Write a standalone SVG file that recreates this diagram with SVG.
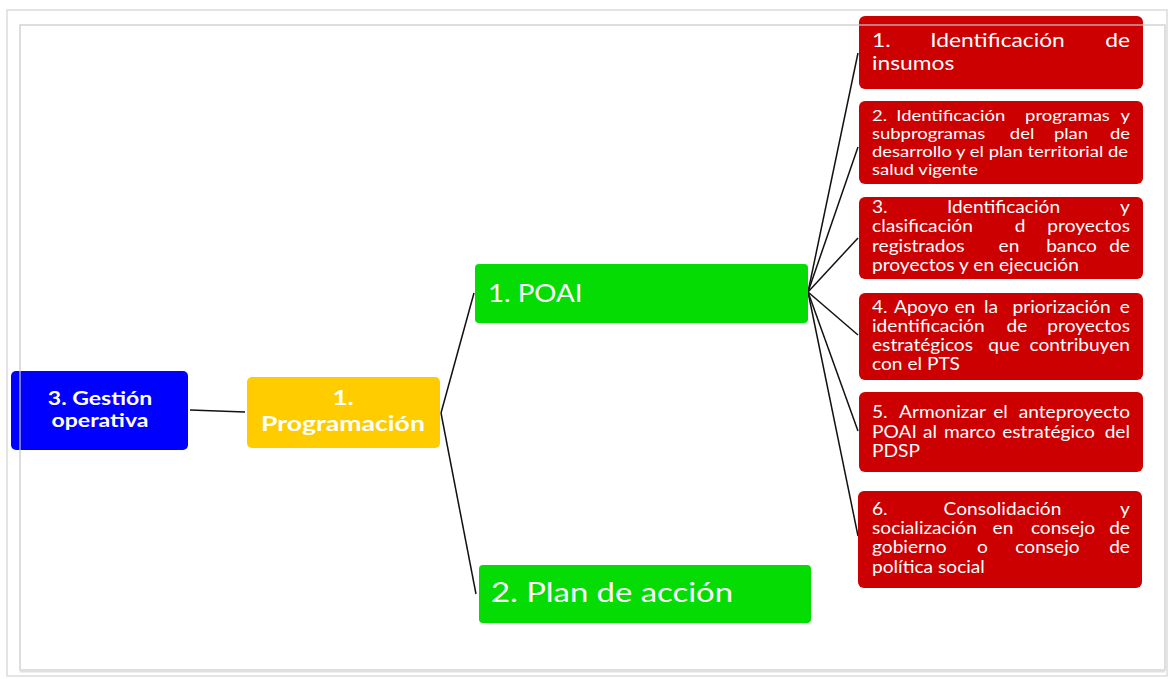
<svg xmlns="http://www.w3.org/2000/svg" width="1172" height="679" viewBox="0 0 1172 679">
<style>
.frame{fill:none;stroke:#dcdcdc;stroke-width:1.5}
.conn{stroke:#111;stroke-width:1.5;fill:none}
.red{fill:#cc0000}
.green{fill:#04dc04}
.t{font-family:Lato,"Open Sans","Liberation Sans",sans-serif;fill:#fff}
.b{font-weight:bold}
.rt{font-size:16.5px}
.m{text-anchor:middle}
.e{text-anchor:end}
</style>
<rect x="0" y="0" width="1172" height="679" fill="#fff"/>
<rect class="frame" x="7" y="10" width="1160" height="666"/>
<g id="connectors">
<line class="conn" x1="190" y1="410" x2="245" y2="412"/>
<line class="conn" x1="441" y1="413" x2="474" y2="293"/>
<line class="conn" x1="441" y1="413" x2="476" y2="594"/>
<line class="conn" x1="808" y1="292" x2="858" y2="53"/>
<line class="conn" x1="808" y1="292" x2="858" y2="147"/>
<line class="conn" x1="808" y1="292" x2="858" y2="238"/>
<line class="conn" x1="808" y1="292" x2="858" y2="335"/>
<line class="conn" x1="808" y1="292" x2="858" y2="431"/>
<line class="conn" x1="808" y1="292" x2="858" y2="536"/>
</g>
<g id="gestion">
<rect x="11" y="371" width="177" height="79" rx="5" fill="#0000ff"/>
<text class="t b" font-size="18" text-anchor="middle" transform="translate(100 405) scale(1.28 1)">3. Gestión</text>
<text class="t b" font-size="18" text-anchor="middle" transform="translate(100 427) scale(1.28 1)">operativa</text>
</g>
<g id="programacion">
<rect x="247" y="377" width="193" height="71" rx="5" fill="#ffcc00"/>
<text class="t b" font-size="20" text-anchor="middle" transform="translate(343 405) scale(1.33 1)">1.</text>
<text class="t b" font-size="20" text-anchor="middle" transform="translate(343 431) scale(1.33 1)">Programación</text>
</g>
<g id="poai">
<rect class="green" x="475" y="264" width="333" height="59" rx="4"/>
<text class="t" font-size="24.5" transform="translate(488 302) scale(1.13 1)">1. POAI</text>
</g>
<g id="plan">
<rect class="green" x="479" y="565" width="332" height="58" rx="4"/>
<text class="t" font-size="26.5" transform="translate(491 602) scale(1.24 1)">2. Plan de acción</text>
</g>
<g id="r1">
<rect class="red" x="859" y="16" width="284" height="73" rx="6"/>
<g transform="translate(872 0) scale(1.2 1)">
<text class="t" font-size="19" y="47"><tspan x="0">1.</tspan><tspan class="m" x="104.6">Identificación</tspan><tspan class="e" x="215">de</tspan></text>
<text class="t" font-size="19" x="0" y="70">insumos</text>
</g>
</g>
<g id="r2">
<rect class="red" x="859" y="101" width="284" height="83" rx="6"/>
<g transform="translate(872 0) scale(1.23 1)">
<text class="t" font-size="15" y="121"><tspan x="0">2.</tspan><tspan class="m" x="64">Identificación</tspan><tspan class="m" x="158.9">programas</tspan><tspan class="e" x="209.8">y</tspan></text>
<text class="t" font-size="15" y="139"><tspan x="0">subprogramas</tspan><tspan class="m" x="122">del</tspan><tspan class="m" x="161.8">plan</tspan><tspan class="e" x="209.8">de</tspan></text>
<text class="t" font-size="15" x="0" y="157">desarrollo y el plan territorial de</text>
<text class="t" font-size="15" x="0" y="175">salud vigente</text>
</g>
</g>
<g id="r3">
<rect class="red" x="859" y="197" width="284" height="82" rx="6"/>
<g transform="translate(872 0) scale(1.16 1)">
<text class="t rt" y="213"><tspan x="0">3.</tspan><tspan class="m" x="113.4">Identificación</tspan><tspan class="e" x="222.4">y</tspan></text>
<text class="t rt" y="232"><tspan x="0">clasificación</tspan><tspan class="m" x="127.6">d</tspan><tspan class="e" x="222.4">proyectos</tspan></text>
<text class="t rt" y="252"><tspan x="0">registrados</tspan><tspan class="m" x="118.1">en</tspan><tspan class="m" x="172">banco</tspan><tspan class="e" x="222.4">de</tspan></text>
<text class="t rt" x="0" y="271">proyectos y en ejecución</text>
</g>
</g>
<g id="r4">
<rect class="red" x="859" y="293" width="284" height="87" rx="6"/>
<g transform="translate(872 0) scale(1.16 1)">
<text class="t rt" y="313"><tspan x="0">4.</tspan><tspan class="m" x="42.5">Apoyo</tspan><tspan class="m" x="80">en</tspan><tspan class="m" x="102.5">la</tspan><tspan class="m" x="163.4">priorización</tspan><tspan class="e" x="222.4">e</tspan></text>
<text class="t rt" y="332"><tspan x="0">identificación</tspan><tspan class="m" x="125">de</tspan><tspan class="e" x="222.4">proyectos</tspan></text>
<text class="t rt" y="351"><tspan x="0">estratégicos</tspan><tspan class="m" x="113.8">que</tspan><tspan class="e" x="222.4">contribuyen</tspan></text>
<text class="t rt" x="0" y="370">con el PTS</text>
</g>
</g>
<g id="r5">
<rect class="red" x="859" y="392" width="284" height="80" rx="6"/>
<g transform="translate(872 0) scale(1.16 1)">
<text class="t rt" y="418"><tspan x="0">5.</tspan><tspan class="m" x="60.8">Armonizar</tspan><tspan class="m" x="110.8">el</tspan><tspan class="e" x="222.4">anteproyecto</tspan></text>
<text class="t rt" y="438"><tspan x="0">POAI</tspan><tspan x="44">al</tspan><tspan x="62">marco</tspan><tspan class="m" x="152.2">estratégico</tspan><tspan class="e" x="222.4">del</tspan></text>
<text class="t rt" x="0" y="457">PDSP</text>
</g>
</g>
<g id="r6">
<rect class="red" x="858" y="491" width="284" height="97" rx="6"/>
<g transform="translate(872 0) scale(1.16 1)">
<text class="t rt" y="515"><tspan x="0">6.</tspan><tspan class="m" x="112.5">Consolidación</tspan><tspan class="e" x="222.4">y</tspan></text>
<text class="t rt" y="534"><tspan x="0">socialización</tspan><tspan class="m" x="112.9">en</tspan><tspan class="m" x="164.7">consejo</tspan><tspan class="e" x="222.4">de</tspan></text>
<text class="t rt" y="553"><tspan x="0">gobierno</tspan><tspan class="m" x="95.3">o</tspan><tspan class="m" x="151.3">consejo</tspan><tspan class="e" x="222.4">de</tspan></text>
<text class="t rt" x="0" y="573">política social</text>
</g>
</g>
<rect x="20" y="25" width="1145" height="645" fill="none" stroke="#c8c8c8" stroke-width="1.5" stroke-opacity="0.8"/>
<line x1="20" y1="671" x2="1165" y2="671" stroke="#e0e0e0" stroke-width="3"/>
</svg>
